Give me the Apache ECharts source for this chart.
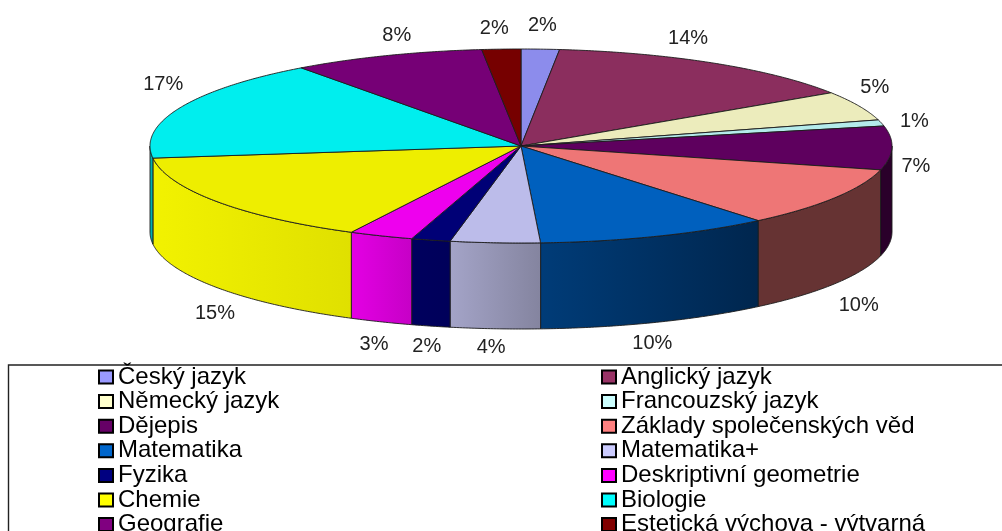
<!DOCTYPE html>
<html>
<head>
<meta charset="utf-8">
<style>html,body{margin:0;padding:0;background:#fff}#c{width:1002px;height:531px}</style>
<script src="https://cdn.jsdelivr.net/npm/echarts@6/dist/echarts.min.js"></script>
</head>
<body>
<div id="c"></div>
<script>
var categories = ["Český jazyk","Anglický jazyk","Německý jazyk","Francouzský jazyk","Dějepis","Základy společenských věd","Matematika","Matematika+","Fyzika","Deskriptivní geometrie","Chemie","Biologie","Geografie","Estetická výchova - výtvarná"];
var values = [1.66,14.1,4.9,1.03,7.27,10,10.2,3.9,1.7,2.8,15.45,16.9,8.4,1.69];
var legendColors = ["#9999FF","#993366","#FFFFCC","#CCFFFF","#660066","#FF8080","#0066CC","#CCCCFF","#000080","#FF00FF","#FFFF00","#00FFFF","#800080","#800000"];
var topColors = ["#8C8CEC","#8B2E5E","#ECECBC","#B4EBEB","#5E005E","#EE7676","#0060BE","#BCBCEA","#000076","#EE00EE","#EEEE00","#00EEEE","#760076","#760000"];
var wallLeft = ["#5C5C99","#5C1F3D","#99997A","#7A9999","#2A002A","#663333","#003C78","#A4A4C8","#00005E","#E400E4","#F2F200","#00B8B8","#4C004C","#4C0000"];
var wallRight = ["#5C5C99","#5C1F3D","#99997A","#7A9999","#2A002A","#663333","#00264E","#84849F","#00005A","#C600C6","#E0E000","#00A8A8","#4C004C","#4C0000"];
var labelNudge = [[2,-24],[-26,-25],[16,-18],[33,-1],[24,19],[24,22],[-4,21],[-4,19],[-4,20],[-7,23],[-2,26],[-17,-23],[10,-20],[-7,-21]];

var cx = 521, cy = 146, rx = 371, ry = 97, depth = 86;
var total = values.reduce(function(a,b){return a+b;},0);
function angleAt(sum){ return sum/total*360; }
function startSum(i){ var s=0; for(var k=0;k<i;k++) s+=values[k]; return s; }
function rim(t,dy){ var r=t*Math.PI/180; return [cx+rx*Math.sin(r), cy-ry*Math.cos(r)+(dy||0)]; }
function arc(a,b,dy){ var p=[],n=Math.max(2,Math.ceil(Math.abs(b-a)/0.5)); for(var j=0;j<=n;j++) p.push(rim(a+(b-a)*j/n,dy)); return p; }

function makeRender(i){
  return function(params, api){
    var v = api.value(0), s = startSum(i);
    var a0 = angleAt(s), a1 = angleAt(s+v), mid = (a0+a1)/2;
    var children = [];
    var w0 = Math.max(a0,90), w1 = Math.min(a1,270);
    var stroke = {stroke:"#1c1c1c",lineWidth:0.9};
    if (w1 > w0) {
      var pts = arc(w0,w1,0).concat(arc(w1,w0,depth));
      children.push({type:"polygon",z2:1,shape:{points:pts},style:Object.assign({
        fill:{type:"linear",x:0,y:0,x2:1,y2:0,colorStops:[{offset:0,color:wallLeft[i]},{offset:1,color:wallRight[i]}]}
      },stroke)});
    }
    children.push({type:"polygon",z2:10,shape:{points:[[cx,cy]].concat(arc(a0,a1,0))},style:Object.assign({fill:topColors[i]},stroke)});
    var c = Math.cos(mid*Math.PI/180);
    var anchor = rim(mid, c < -0.1 ? depth : 0);
    children.push({type:"text",z2:20,x:anchor[0]+labelNudge[i][0],y:anchor[1]+labelNudge[i][1],style:{
      text:Math.round(v/total*100)+"%",fill:"#222",font:"20px 'Liberation Sans'",align:"center",verticalAlign:"middle"
    }});
    return {type:"group",children:children};
  };
}

var series = categories.map(function(name,i){
  return {type:"custom",name:name,coordinateSystem:"none",silent:true,animation:false,
    itemStyle:{color:legendColors[i]},data:[[values[i]]],renderItem:makeRender(i)};
});
function legendFor(rem,left){
  return {orient:"vertical",left:left,top:365,height:400,padding:0,itemWidth:14,itemHeight:13,itemGap:0.6,icon:"rect",selectedMode:false,
    textStyle:{color:"#000",fontFamily:"Liberation Sans",fontSize:24,lineHeight:24,padding:[0,0,0,0]},
    itemStyle:{borderColor:"#000",borderWidth:2},
    data:categories.map(function(n,i){return {name:n,i:i};}).filter(function(d){return d.i%2===rem;}).map(function(d){
      return {name:d.name,itemStyle:{color:legendColors[d.i],borderColor:"#000",borderWidth:2}};
    })};
}
var chart = echarts.init(document.getElementById("c"),null,{renderer:"canvas"});
chart.setOption({
  backgroundColor:"#fff",animation:false,tooltip:{show:false},
  legend:[legendFor(0,98),legendFor(1,601)],
  graphic:[{type:"rect",silent:true,z:-1,shape:{x:8.5,y:365,width:1100,height:300},style:{fill:"none",stroke:"#222",lineWidth:1.4}}],
  series:series
});
</script>
</body>
</html>
